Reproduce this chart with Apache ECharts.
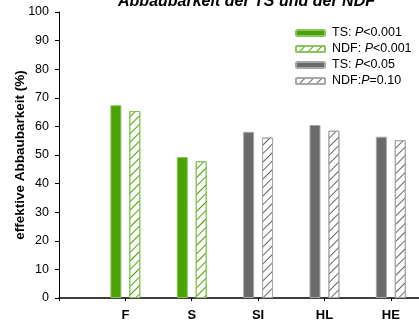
<!DOCTYPE html>
<html><head><meta charset="utf-8">
<script src="https://cdn.jsdelivr.net/npm/echarts@6/dist/echarts.min.js"></script>
<style>html,body{margin:0;padding:0;background:#fff}#c{width:419px;height:322px}</style>
</head><body><div id="c"></div>
<script>
const categories = ['F', 'S', 'SI', 'HL', 'HE'];
const tsValues = [67.4, 49.3, 58.1, 60.5, 56.4];
const ndfValues = [65.4, 47.8, 56.1, 58.5, 55.2];
const greenIdx = [0, 1];
const grayIdx = [2, 3, 4];
const yTicks = [0, 10, 20, 30, 40, 50, 60, 70, 80, 90, 100];
const legendNames = ['TS: P<0.001', 'NDF: P<0.001', 'TS: P<0.05', 'NDF:P=0.10'];

const GREEN = '#4aa400', GREEN_B = '#8cc460', GRAY = '#6a6a6a', GRAY_B = '#a8a8a8';
function hatch(c){ return {symbol:'rect', symbolSize:1, color:c, dashArrayX:[1,0], dashArrayY:[1,4.5], rotation:-Math.PI/4}; }
function pts(vals, idx){ return idx.map(i => [i, vals[i]]); }

const chart = echarts.init(document.getElementById('c'), null, {renderer:'canvas'});
chart.setOption({
  animation:false,
  title:{text:'Abbaubarkeit der TS und der NDF', left:241.5, textAlign:'center', top:-11,
    textStyle:{fontFamily:'Liberation Sans', fontSize:16, fontWeight:'bold', fontStyle:'italic', color:'#000'}},
  grid:{left:59, right:-5, top:12, bottom:24, containLabel:false, outerBoundsMode:'none'},
  legend:{orient:'vertical', left:295, top:26, padding:0, itemWidth:29, itemHeight:6, itemGap:2,
    data:legendNames,
    formatter: n => { const m = n.match(/^(.*?)P(.*)$/); return m[1] + '{i|P}' + m[2]; },
    textStyle:{fontFamily:'Liberation Sans', fontSize:12.5, lineHeight:14, color:'#000', padding:[0,0,0,2],
      rich:{i:{fontStyle:'italic', fontFamily:'Liberation Sans', fontSize:12.5, lineHeight:14}}}},
  xAxis:{type:'value', min:-1, max:4.5, interval:1,
    axisLine:{show:true, lineStyle:{color:'#000', width:1.5}},
    axisTick:{show:true, length:3, lineStyle:{color:'#000'}},
    splitLine:{show:false},
    axisLabel:{formatter: v => (Number.isInteger(v) && v >= 0 && v < categories.length) ? categories[v] : '',
      fontFamily:'Liberation Sans', fontWeight:'bold', fontSize:13, color:'#000', margin:11, showMaxLabel:false}},
  yAxis:{type:'value', min:0, max:100, interval:10,
    name:'effektive Abbaubarkeit (%)', nameLocation:'middle', nameGap:32, nameMoveOverlap:false,
    nameTextStyle:{fontFamily:'Liberation Sans', fontWeight:'bold', fontSize:13.5, color:'#000'},
    axisLine:{show:true, onZero:false, lineStyle:{color:'#000', width:1}},
    axisTick:{show:true, length:4, lineStyle:{color:'#000'}},
    splitLine:{show:false},
    axisLabel:{formatter: v => yTicks.includes(v) ? String(v) : '', fontFamily:'Liberation Sans', fontSize:12.5, color:'#000', margin:10}},
  series:[
    {name:legendNames[0], type:'bar', stack:'ts', barWidth:11, barGap:'72%', data:pts(tsValues, greenIdx),
     itemStyle:{color:GREEN, borderColor:GREEN_B, borderWidth:1}},
    {name:legendNames[1], type:'bar', stack:'ndf', barWidth:11, barGap:'72%', data:pts(ndfValues, greenIdx),
     itemStyle:{color:'#fff', borderColor:GREEN_B, borderWidth:1, decal:hatch(GREEN)}},
    {name:legendNames[2], type:'bar', stack:'ts', barWidth:11, barGap:'72%', data:pts(tsValues, grayIdx),
     itemStyle:{color:GRAY, borderColor:GRAY_B, borderWidth:1}},
    {name:legendNames[3], type:'bar', stack:'ndf', barWidth:11, barGap:'72%', data:pts(ndfValues, grayIdx),
     itemStyle:{color:'#fff', borderColor:GRAY_B, borderWidth:1, decal:hatch('#666')}}
  ]
});
</script></body></html>
